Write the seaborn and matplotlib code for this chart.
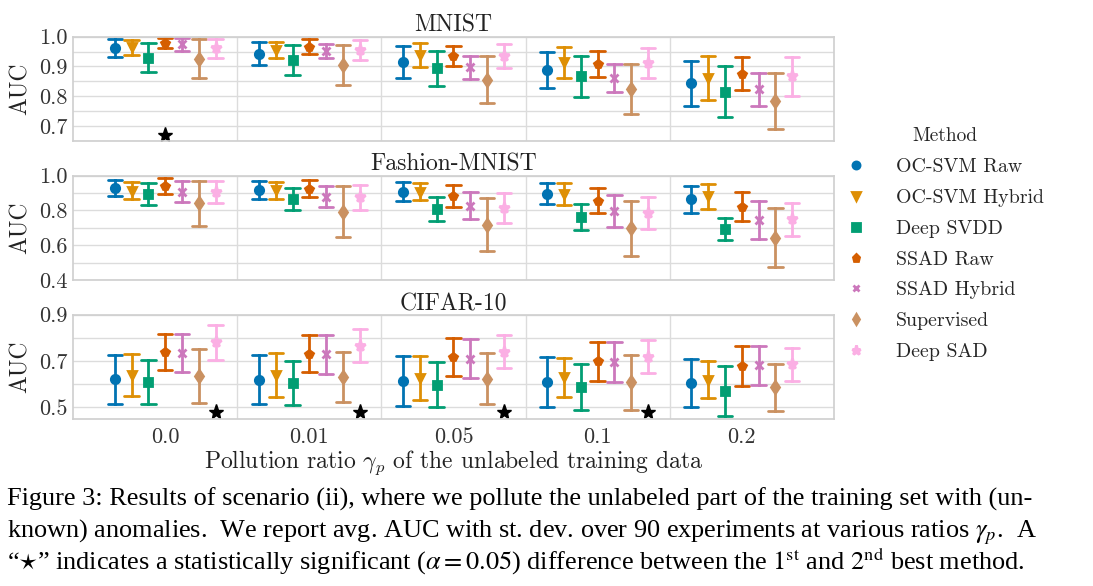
import matplotlib
matplotlib.use("Agg")
import matplotlib.pyplot as plt
from matplotlib.ticker import MultipleLocator, FixedLocator, FormatStrFormatter
import seaborn as sns
import pandas as pd

# pollution ratios (x categories) and methods (hue)
ratios = ["0.0", "0.01", "0.05", "0.1", "0.2"]
methods = ["OC-SVM Raw", "OC-SVM Hybrid", "Deep SVDD", "SSAD Raw",
           "SSAD Hybrid", "Supervised", "Deep SAD"]
markers = ["o", "v", "s", "p", "x", "d", "*"]

# mean AUC per method (rows) and ratio (cols)
mnist_mean = [
    [0.961, 0.943, 0.915, 0.889, 0.843],
    [0.964, 0.956, 0.939, 0.914, 0.861],
    [0.929, 0.922, 0.894, 0.867, 0.816],
    [0.979, 0.967, 0.935, 0.908, 0.876],
    [0.974, 0.953, 0.897, 0.862, 0.823],
    [0.926, 0.904, 0.856, 0.823, 0.784],
    [0.961, 0.956, 0.936, 0.913, 0.867],
]
mnist_std = [
    [0.030, 0.039, 0.053, 0.060, 0.076],
    [0.025, 0.026, 0.040, 0.051, 0.075],
    [0.049, 0.051, 0.058, 0.068, 0.084],
    [0.018, 0.024, 0.035, 0.044, 0.056],
    [0.021, 0.024, 0.039, 0.046, 0.054],
    [0.066, 0.067, 0.078, 0.084, 0.095],
    [0.031, 0.033, 0.041, 0.050, 0.066],
]
fmnist_mean = [
    [0.929, 0.918, 0.908, 0.896, 0.865],
    [0.913, 0.916, 0.909, 0.896, 0.881],
    [0.893, 0.865, 0.807, 0.764, 0.693],
    [0.942, 0.924, 0.885, 0.857, 0.822],
    [0.907, 0.880, 0.828, 0.799, 0.745],
    [0.841, 0.793, 0.718, 0.697, 0.643],
    [0.906, 0.875, 0.816, 0.783, 0.749],
]
fmnist_std = [
    [0.048, 0.052, 0.056, 0.061, 0.078],
    [0.049, 0.048, 0.049, 0.062, 0.071],
    [0.063, 0.064, 0.070, 0.075, 0.063],
    [0.045, 0.049, 0.063, 0.072, 0.082],
    [0.060, 0.062, 0.078, 0.092, 0.107],
    [0.130, 0.146, 0.151, 0.159, 0.171],
    [0.065, 0.073, 0.086, 0.092, 0.096],
]
cifar_mean = [
    [0.621, 0.620, 0.615, 0.609, 0.604],
    [0.640, 0.640, 0.627, 0.630, 0.620],
    [0.609, 0.605, 0.598, 0.588, 0.571],
    [0.740, 0.732, 0.716, 0.700, 0.679],
    [0.736, 0.729, 0.710, 0.695, 0.681],
    [0.636, 0.630, 0.623, 0.608, 0.586],
    [0.780, 0.767, 0.741, 0.719, 0.686],
]
cifar_std = [
    [0.107, 0.107, 0.108, 0.108, 0.103],
    [0.091, 0.094, 0.093, 0.083, 0.081],
    [0.095, 0.095, 0.098, 0.100, 0.107],
    [0.077, 0.080, 0.082, 0.084, 0.087],
    [0.082, 0.083, 0.084, 0.085, 0.083],
    [0.118, 0.108, 0.110, 0.118, 0.100],
    [0.074, 0.072, 0.070, 0.071, 0.072],
]

# significance stars: (ratio, best method)
mnist_stars = [("0.0", "SSAD Raw")]
fmnist_stars = []
cifar_stars = [("0.0", "Deep SAD"), ("0.01", "Deep SAD"),
               ("0.05", "Deep SAD"), ("0.1", "Deep SAD")]

sns.set_theme(style="whitegrid", palette="colorblind")
plt.rcParams["font.family"] = ["cmr10", "DejaVu Serif"]
plt.rcParams["mathtext.fontset"] = "cm"
plt.rcParams["axes.formatter.use_mathtext"] = True
plt.rcParams["axes.unicode_minus"] = False

pal = sns.color_palette("colorblind", 7)
DODGE = 0.7
msizes = {"o": 6, "v": 6, "s": 6, "p": 6, "x": 5.5, "d": 6, "*": 8}


def make_df(mean, std):
    rows = []
    for i, m in enumerate(methods):
        for j, r in enumerate(ratios):
            rows.append({"Method": m, "ratio": r, "AUC": mean[i][j] - std[i][j]})
            rows.append({"Method": m, "ratio": r, "AUC": mean[i][j] + std[i][j]})
    return pd.DataFrame(rows)


def fix_marker(line):
    mk = line.get_marker()
    if mk in msizes:
        line.set_markersize(msizes[mk])
        if mk == "x":
            line.set_markeredgewidth(2)


fig = plt.figure(figsize=(10.93, 5.86), dpi=100)

panels = [
    ("MNIST", mnist_mean, mnist_std, mnist_stars, (0.65, 1.0), [0.7, 0.8, 0.9, 1.0], 0.05, 0.671),
    ("Fashion-MNIST", fmnist_mean, fmnist_std, fmnist_stars, (0.4, 1.0), [0.4, 0.6, 0.8, 1.0], 0.1, 0.42),
    ("CIFAR-10", cifar_mean, cifar_std, cifar_stars, (0.45, 0.9), [0.5, 0.7, 0.9], 0.1, 0.478),
]
rects = [[0.0668, 0.7594, 0.6962, 0.178],
         [0.0668, 0.5222, 0.6962, 0.178],
         [0.0668, 0.2850, 0.6962, 0.178]]

leg_handles = None
for k, (title, mean, std, stars, ylim, yticks, yminor, star_y) in enumerate(panels):
    ax = fig.add_axes(rects[k])
    df = make_df(mean, std)
    sns.pointplot(data=df, x="ratio", y="AUC", hue="Method", order=ratios,
                  hue_order=methods, palette=pal, markers=markers,
                  linestyles="none", dodge=DODGE, capsize=0.1,
                  estimator="mean", errorbar=lambda v: (v.min(), v.max()),
                  err_kws={"linewidth": 2}, markersize=6, ax=ax)
    for ln in ax.lines:
        fix_marker(ln)
    leg = ax.get_legend()
    if leg is not None:
        if leg_handles is None:
            leg_handles = leg.legend_handles
            leg_labels = [t.get_text() for t in leg.texts]
        leg.remove()

    step = DODGE / (len(methods) - 1)
    for r, m in stars:
        xs = ratios.index(r) - DODGE / 2 + step * methods.index(m)
        ax.plot(xs, star_y, marker="*", color="black", markersize=11, linestyle="none")

    ax.set_xlim(-0.64, 4.64)
    ax.set_ylim(*ylim)
    ax.yaxis.set_major_locator(FixedLocator(yticks))
    ax.yaxis.set_minor_locator(MultipleLocator(yminor))
    ax.yaxis.set_major_formatter(FormatStrFormatter("%.1f"))
    ax.xaxis.set_minor_locator(FixedLocator([0.5, 1.5, 2.5, 3.5]))
    ax.grid(False)
    ax.yaxis.grid(True, which="both", color="#dcdcdc", linewidth=1)
    ax.xaxis.grid(True, which="minor", color="#dcdcdc", linewidth=1)
    for s in ax.spines.values():
        s.set_color("#d0d0d0")
    ax.tick_params(axis="both", which="both", length=0, labelsize=16, labelcolor="#333333")
    ax.tick_params(axis="y", pad=4)
    ax.tick_params(axis="x", pad=6)
    ax.set_title(title, fontsize=17, pad=3, color="#222222")
    ax.set_ylabel("AUC", fontsize=17, labelpad=5, color="#222222")
    if k < 2:
        ax.set_xticklabels([])
        ax.set_xlabel("")
    else:
        ax.set_xlabel(r"Pollution ratio $\gamma_p$ of the unlabeled training data",
                      fontsize=17, labelpad=1, color="#222222")

for h in leg_handles:
    h.set_markersize(5)
    fix_marker(h)
    h.set_markersize(h.get_markersize() * 0.85)
fig.legend(leg_handles, leg_labels, title="Method", loc="upper left",
           bbox_to_anchor=(0.765, 0.800), frameon=False, fontsize=14.3,
           title_fontsize=14, handlelength=1.0, handletextpad=1.5,
           labelspacing=0.65, borderpad=0)

cap_kw = dict(family=["Liberation Serif", "DejaVu Serif"], fontsize=18.9,
              math_fontfamily="stix", color="black", ha="left", va="baseline")
fig.text(0.006, 1 - 506 / 586,
         "Figure 3: Results of scenario (ii), where we pollute the unlabeled part of the training set with (un-",
         **cap_kw)
fig.text(0.006, 1 - 537.5 / 586,
         r"known) anomalies.  We report avg. AUC with st. dev. over 90 experiments at various ratios $\gamma_p$.  A",
         **cap_kw)
fig.text(0.006, 1 - 569.5 / 586,
         r"“$\star$” indicates a statistically significant ($\alpha = 0.05$) difference between the $1^{\mathrm{st}}$ and $2^{\mathrm{nd}}$ best method.",
         **cap_kw)

fig.savefig("out.png", dpi=100)
